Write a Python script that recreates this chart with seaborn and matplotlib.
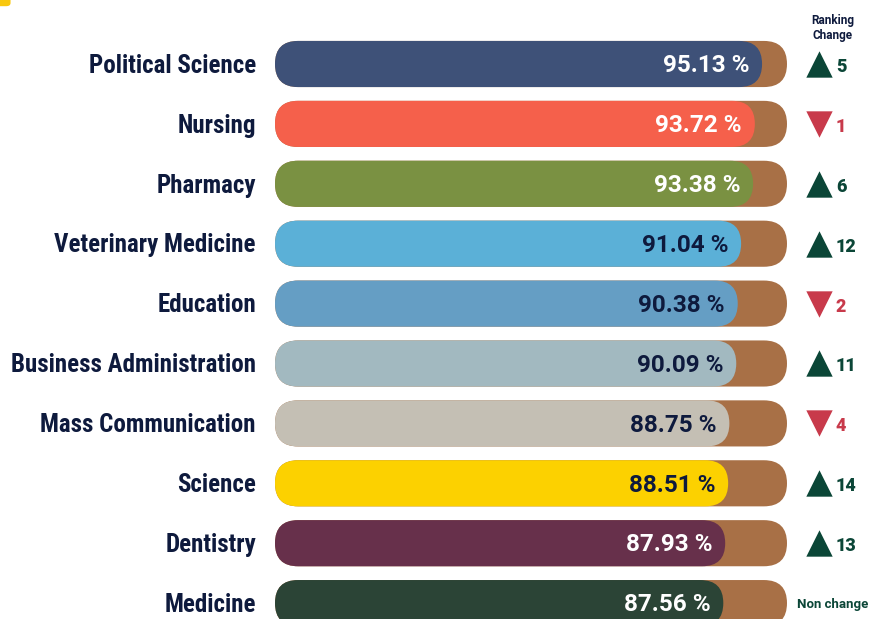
import matplotlib
matplotlib.use("Agg")
import matplotlib.pyplot as plt
from matplotlib.patches import FancyBboxPatch
import seaborn as sns
import pandas as pd

categories = ["Political Science", "Nursing", "Pharmacy", "Veterinary Medicine", "Education",
              "Business Administration", "Mass Communication", "Science", "Dentistry", "Medicine"]
values = [95.13, 93.72, 93.38, 91.04, 90.38, 90.09, 88.75, 88.51, 87.93, 87.56]
rank_change = [5, -1, 6, 12, -2, 11, -4, 14, 13, 0]
bar_colors = ["#3e5178", "#f5604b", "#7a9142", "#5bb0d7", "#659ec4",
              "#a2b9c0", "#c4bfb4", "#fcd100", "#67304b", "#2b4436"]
label_colors = ["white", "white", "white", "#0e1a3d", "#0e1a3d",
                "#0e1a3d", "#0e1a3d", "#0e1a3d", "white", "white"]
track_max = [100] * len(categories)

BROWN = "#a87046"
NAVY = "#0e1a3d"
GREEN = "#0b4637"
RED = "#c83a4b"
FONT_C = ["Roboto Condensed", "IBM Plex Sans Condensed", "DejaVu Sans"]
FONT_R = ["Roboto", "DejaVu Sans"]

W, H, DPI = 8.78, 6.19, 100
sns.set_theme(style="white")
plt.rcParams["font.family"] = FONT_C

fig = plt.figure(figsize=(W, H), dpi=DPI)
ax = fig.add_axes([0, 0, 1, 1])

df = pd.DataFrame({"cat": categories, "val": values, "track": track_max})

sns.barplot(data=df, y="cat", x="track", color=BROWN, width=0.77, orient="h", ax=ax,
            saturation=1)
sns.barplot(data=df, y="cat", x="val", hue="cat", palette=bar_colors, width=0.77,
            orient="h", ax=ax, legend=False, saturation=1)

# pixel mapping: x px = 275 + 5.12*v ; row i center at 64 + 59.9*i
sx = 5.12
sy = 59.9
x0 = -275 / sx
x1 = (878 - 275) / sx
ax.set_xlim(x0, x1)
ax.set_ylim((619 - 64) / sy, -64 / sy)
ax.axis("off")

aspect = sx / sy
for p in list(ax.patches):
    x, y = p.get_x(), p.get_y()
    w, h = p.get_width(), p.get_height()
    fc = p.get_facecolor()
    p.remove()
    r = h / (2 * aspect)
    fb = FancyBboxPatch((x, y), w, h, boxstyle=f"round,pad=0,rounding_size={r}",
                        mutation_aspect=aspect, facecolor=fc, edgecolor="none", zorder=2)
    ax.add_patch(fb)

for i, (c, v, lc) in enumerate(zip(categories, values, label_colors)):
    ax.text(-19 / sx, i + 0.03, c, ha="right", va="center", fontsize=18, fontweight="bold",
            color=NAVY, family=FONT_C)
    ax.text(v - 13 / sx, i + 0.03, f"{v:.2f} %", ha="right", va="center", fontsize=17.5,
            fontweight="bold", color=lc, family=FONT_R, zorder=3)
    rc = rank_change[i]
    tx = (819 - 275) / sx
    if rc > 0:
        ax.scatter([tx], [i], marker="^", s=360, color=GREEN, zorder=3, linewidths=0)
        ax.text((836 - 275) / sx, i + 0.05, str(rc), ha="left", va="center", fontsize=13,
                fontweight="black", color=GREEN, family=FONT_R)
    elif rc < 0:
        ax.scatter([tx], [i], marker="v", s=360, color=RED, zorder=3, linewidths=0)
        ax.text((836 - 275) / sx, i + 0.05, str(-rc), ha="left", va="center", fontsize=13,
                fontweight="black", color=RED, family=FONT_R)
    else:
        ax.text((833 - 275) / sx, i + 0.02, "Non change", ha="center", va="center", fontsize=9.5,
                fontweight="bold", color=GREEN, family=FONT_R)

ax.text((833 - 275) / sx, -64 / sy + 28 / sy, "Ranking\nChange", ha="center", va="center",
        fontsize=8.5, fontweight="bold", color=NAVY, family=FONT_R, linespacing=1.25)

fig.patches.append(FancyBboxPatch((-0.01, 0.99), 0.022, 0.03, boxstyle="round,pad=0,rounding_size=0.005",
                                  transform=fig.transFigure, facecolor="#f9c80e", edgecolor="none"))

fig.savefig("out.png", dpi=DPI)
